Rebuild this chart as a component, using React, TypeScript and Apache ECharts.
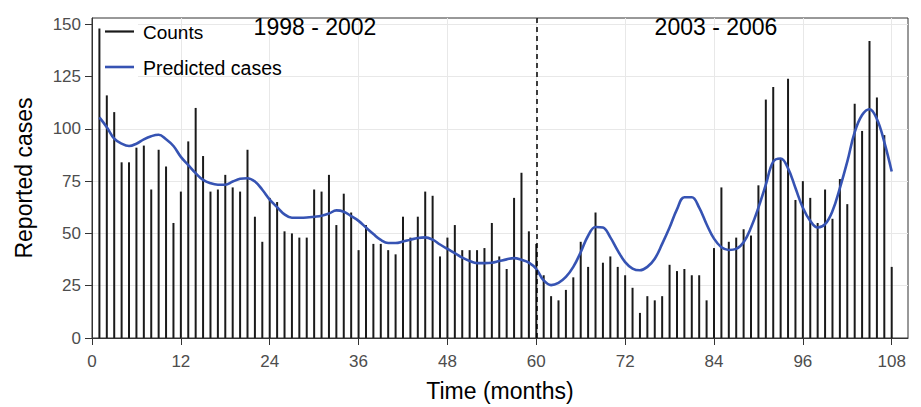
import React, { useEffect, useRef } from "react";
import * as echarts from "echarts";

const months: number[] = Array.from({ length: 108 }, (_, i) => i + 1);

const counts: number[] = [
  148, 116, 108, 84, 84, 91, 92, 71, 90, 82, 55, 70,
  94, 110, 87, 70, 71, 78, 72, 70, 90, 58, 46, 67,
  65, 51, 50, 48, 48, 71, 70, 78, 54, 69, 60, 42,
  54, 45, 45, 42, 40, 58, 48, 58, 70, 68, 39, 48,
  54, 42, 42, 42, 43, 55, 39, 33, 67, 79, 51, 45,
  30, 20, 18, 23, 29, 46, 34, 60, 36, 39, 34, 30,
  24, 12, 20, 18, 20, 35, 32, 33, 30, 30, 18, 43,
  72, 46, 48, 52, 49, 73, 114, 120, 86, 124, 66, 75,
  67, 55, 71, 57, 76, 64, 112, 99, 142, 115, 97, 34,
];

const predicted: number[] = [
  105.5, 100.8, 95.3, 92.9, 91.8, 92.9, 95, 96.5, 97.2, 95, 91.8, 86.6,
  82.7, 78.8, 75.6, 74, 73.3, 73.3, 74.8, 76.1, 76.4, 74.8, 70.9, 66.2,
  62.6, 59.1, 57.5, 57.5, 57.6, 58, 58.5, 59.5, 61, 60.4, 58.3, 56,
  52.8, 49.7, 46.9, 45.4, 45.4, 46.1, 47, 47.8, 48.1, 47, 44.7, 42.6,
  40.6, 38.4, 36.8, 35.8, 35.8, 36, 36.8, 37.6, 38.2, 37.4, 36, 33,
  27.5, 25.3, 26.4, 29.2, 34, 41, 48.9, 53.1, 52.8, 48.1, 41.8, 36.3,
  33.2, 32.4, 34, 37.9, 45, 52.8, 61.5, 67.3, 67.3, 62.3, 54.4, 47.5,
  43.4, 42.1, 42.6, 45.8, 52.8, 62.3, 73.3, 84.3, 85.8, 81.1, 71.7, 62.3,
  56, 52.8, 54.4, 60.7, 71.7, 84.3, 98.4, 106.6, 109.4, 104.7, 93.7, 79.6,
];

const xTicks: number[] = [0, 12, 24, 36, 48, 60, 72, 84, 96, 108];
const yTicks: number[] = [0, 25, 50, 75, 100, 125, 150];
const periodSplit = 60;
const periodLabels: string[] = ["1998 - 2002", "2003 - 2006"];
const legendLabels: string[] = ["Counts", "Predicted cases"];

const FONT = "'Liberation Sans', Arial, Helvetica, sans-serif";
const BLUE = "#3653b3";

export default function App() {
  const ref = useRef<HTMLDivElement>(null);

  useEffect(() => {
    if (!ref.current) return;
    const chart = echarts.init(ref.current, null, { renderer: "svg" });
    const option: any = {
      animation: false,
      backgroundColor: "#ffffff",
      textStyle: { fontFamily: FONT },
      grid: {
        left: 92,
        right: 13,
        top: 18,
        bottom: 65,
        show: true,
        borderColor: "#333333",
        borderWidth: 1,
        backgroundColor: "transparent",
      },
      xAxis: {
        type: "value",
        min: 0,
        max: 110.2,
        interval: 6,
        name: "Time (months)",
        nameLocation: "middle",
        nameGap: 41,
        nameTextStyle: { fontSize: 23, color: "#000", fontFamily: FONT },
        axisLine: { show: true, onZero: false, lineStyle: { color: "#333333", width: 1 } },
        axisTick: { show: true, length: 7, customValues: xTicks, lineStyle: { color: "#333333" } },
        axisLabel: {
          customValues: xTicks,
          fontSize: 17,
          color: "#4d4d4d",
          margin: 15,
          fontFamily: FONT,
        },
        splitLine: { show: true, lineStyle: { color: "#e8e8e8", width: 1 } },
      },
      yAxis: {
        type: "value",
        min: 0,
        max: 153,
        interval: 12.5,
        name: "Reported cases",
        nameLocation: "middle",
        nameGap: 57,
        nameTextStyle: { fontSize: 23, color: "#000", fontFamily: FONT },
        axisLine: { show: true, lineStyle: { color: "#333333", width: 1 } },
        axisTick: { show: true, length: 7, customValues: yTicks, lineStyle: { color: "#333333" } },
        axisLabel: {
          customValues: yTicks,
          fontSize: 17,
          color: "#4d4d4d",
          margin: 11,
          fontFamily: FONT,
        },
        splitLine: { show: true, lineStyle: { color: "#e8e8e8", width: 1 } },
      },
      series: [
        {
          type: "bar",
          name: legendLabels[0],
          data: months.map((m, i) => [m, counts[i]]),
          barWidth: 2,
          itemStyle: { color: "#1a1a1a" },
          z: 3,
          markLine: {
            silent: true,
            symbol: ["none", "none"],
            label: { show: false },
            lineStyle: { color: "#000", type: [5, 4], width: 1.5 },
            data: [{ xAxis: periodSplit }],
          },
        },
        {
          type: "line",
          name: legendLabels[1],
          data: months.map((m, i) => [m, predicted[i]]),
          smooth: 0.4,
          showSymbol: false,
          symbol: "none",
          lineStyle: { color: BLUE, width: 2.6 },
          z: 4,
        },
      ],
      graphic: [
        {
          type: "rect",
          shape: { x: 93, y: 19, width: 45, height: 66 },
          style: { fill: "#ffffff" },
          z: 1,
        },
        {
          type: "line",
          shape: { x1: 105, y1: 31.5, x2: 134, y2: 31.5 },
          style: { stroke: "#1a1a1a", lineWidth: 2.2 },
          z: 11,
        },
        {
          type: "line",
          shape: { x1: 105, y1: 67, x2: 134, y2: 67 },
          style: { stroke: BLUE, lineWidth: 2.6 },
          z: 11,
        },
        {
          type: "text",
          x: 143,
          y: 32,
          style: {
            text: legendLabels[0],
            fontSize: 19,
            fontFamily: FONT,
            fill: "#000",
            verticalAlign: "middle",
          },
          z: 11,
        },
        {
          type: "text",
          x: 143,
          y: 68,
          style: {
            text: legendLabels[1],
            fontSize: 19.5,
            fontFamily: FONT,
            fill: "#000",
            verticalAlign: "middle",
          },
          z: 11,
        },
        {
          type: "text",
          x: 315,
          y: 27,
          style: {
            text: periodLabels[0],
            fontSize: 23,
            fontFamily: FONT,
            fill: "#000",
            align: "center",
            verticalAlign: "middle",
          },
          z: 11,
        },
        {
          type: "text",
          x: 716,
          y: 27,
          style: {
            text: periodLabels[1],
            fontSize: 23,
            fontFamily: FONT,
            fill: "#000",
            align: "center",
            verticalAlign: "middle",
          },
          z: 11,
        },
      ],
    };
    chart.setOption(option);
    return () => chart.dispose();
  }, []);

  return (
    <div
      ref={ref}
      style={{ position: "absolute", left: 0, top: 0, width: 921, height: 407 }}
    />
  );
}
